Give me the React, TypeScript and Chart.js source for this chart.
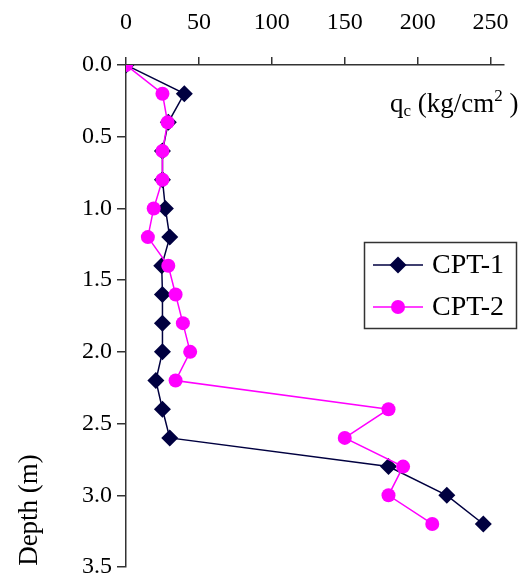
import React, { useEffect, useRef } from "react";
import { Chart, registerables } from "chart.js";

Chart.register(...registerables);

const depths = [0, 0.2, 0.4, 0.6, 0.8, 1.0, 1.2, 1.4, 1.6, 1.8, 2.0, 2.2, 2.4, 2.6, 2.8, 3.0, 3.2];
const cpt1 = [0, 40, 29, 25, 25, 27, 30, 24.5, 25, 25, 25, 20.5, 25, 30, 180, 220, 245];
const cpt2 = [0, 25, 28.5, 25, 25, 19, 15, 29, 34, 39, 44, 34, 180, 150, 190, 180, 210];
const seriesNames = ["CPT-1", "CPT-2"];
const xTickValues = [0, 50, 100, 150, 200, 250];
const yTickValues = [0, 0.5, 1.0, 1.5, 2.0, 2.5, 3.0, 3.5];

const NAVY = "#000040";
const MAGENTA = "#ff00ff";
const AXIS = "#333333";
const FONT = "'Liberation Serif', 'Times New Roman', serif";

const overlayPlugin = {
  id: "overlay",
  afterDraw(chart: any) {
    const ctx = chart.ctx as CanvasRenderingContext2D;
    ctx.save();
    ctx.fillStyle = "#000";
    ctx.textBaseline = "alphabetic";
    ctx.textAlign = "left";
    // q_c label
    let x = 390;
    const base = 112;
    const big = `27px ${FONT}`;
    const small = `17px ${FONT}`;
    const parts: [string, string, number][] = [
      ["q", big, 0],
      ["c", small, 4],
      [" (kg/cm", big, 0],
      ["2", small, -11],
      [" )", big, 0],
    ];
    for (const [t, f, dy] of parts) {
      ctx.font = f;
      ctx.fillText(t, x, base + dy);
      x += ctx.measureText(t).width;
    }
    // y title
    ctx.save();
    ctx.translate(30, 510);
    ctx.rotate(-Math.PI / 2);
    ctx.textAlign = "center";
    ctx.textBaseline = "middle";
    ctx.font = `27px ${FONT}`;
    ctx.fillText("Depth (m)", 0, 0);
    ctx.restore();

    // legend
    ctx.strokeStyle = AXIS;
    ctx.lineWidth = 1.5;
    ctx.strokeRect(364.5, 242.5, 152, 86);
    const rows = [
      { y: 265, color: NAVY, name: seriesNames[0], style: "rectRot", r: 8.5 },
      { y: 307, color: MAGENTA, name: seriesNames[1], style: "circle", r: 7 },
    ];
    for (const row of rows) {
      ctx.strokeStyle = row.color;
      ctx.lineWidth = 1.5;
      ctx.beginPath();
      ctx.moveTo(373, row.y);
      ctx.lineTo(423, row.y);
      ctx.stroke();
      ctx.fillStyle = row.color;
      ctx.beginPath();
      if (row.style === "circle") {
        ctx.arc(398, row.y, row.r, 0, Math.PI * 2);
      } else {
        ctx.moveTo(398, row.y - row.r);
        ctx.lineTo(398 + row.r, row.y);
        ctx.lineTo(398, row.y + row.r);
        ctx.lineTo(398 - row.r, row.y);
        ctx.closePath();
      }
      ctx.fill();
      ctx.fillStyle = "#000";
      ctx.font = `28px ${FONT}`;
      ctx.textBaseline = "middle";
      ctx.fillText(row.name, 432, row.y + 1);
    }
    ctx.restore();
  },
};

export default function App() {
  const ref = useRef<HTMLCanvasElement | null>(null);
  useEffect(() => {
    document.body.style.margin = "0";
    const canvas = ref.current!;
    const chart = new Chart(canvas, {
      type: "scatter",
      data: {
        datasets: [
          {
            label: seriesNames[0],
            data: depths.map((d, i) => ({ x: cpt1[i], y: d })),
            showLine: true,
            order: 1,
            borderColor: NAVY,
            backgroundColor: NAVY,
            borderWidth: 1.5,
            pointStyle: "rectRot",
            pointRadius: 8.5,
            pointBorderWidth: 0,
            pointBackgroundColor: NAVY,
          },
          {
            label: seriesNames[1],
            data: depths.map((d, i) => ({ x: cpt2[i], y: d })),
            showLine: true,
            order: 0,
            borderColor: MAGENTA,
            backgroundColor: MAGENTA,
            borderWidth: 1.5,
            pointStyle: "circle",
            pointRadius: 7,
            pointBorderWidth: 0,
            pointBackgroundColor: MAGENTA,
          },
        ],
      },
      options: {
        responsive: false,
        animation: false,
        devicePixelRatio: 1,
        layout: { padding: { left: 0, top: 0, right: 12, bottom: 14 } },
        plugins: { legend: { display: false }, tooltip: { enabled: false } },
        scales: {
          x: {
            type: "linear",
            position: "top",
            min: 0,
            max: 259,
            afterBuildTicks: (s: any) => {
              s.ticks = xTickValues.map((v) => ({ value: v }));
            },
            afterFit: (s: any) => {
              s.height = 65;
            },
            ticks: {
              stepSize: 50,
              color: "#000",
              font: { family: FONT, size: 24 },
              padding: 20,
              maxRotation: 0,
            },
            grid: { drawOnChartArea: false, drawTicks: true, tickLength: 8, color: AXIS, lineWidth: 1.5 },
            border: { color: AXIS, width: 1.5 },
          },
          y: {
            type: "linear",
            reverse: true,
            min: 0,
            max: 3.5,
            afterBuildTicks: (s: any) => {
              s.ticks = yTickValues.map((v) => ({ value: v }));
            },
            afterFit: (s: any) => {
              s.width = 126;
              s.paddingBottom = 0;
              s.paddingTop = 0;
            },
            ticks: {
              stepSize: 0.5,
              color: "#000",
              font: { family: FONT, size: 24 },
              padding: 5,
              callback: (v: any) => Number(v).toFixed(1),
            },
            grid: { drawOnChartArea: false, drawTicks: true, tickLength: 9, color: AXIS, lineWidth: 1.5 },
            border: { color: AXIS, width: 1.5 },
          },
        },
      },
      plugins: [overlayPlugin],
    });
    return () => chart.destroy();
  }, []);
  return <canvas ref={ref} width={529} height={581} style={{ display: "block" }} />;
}
